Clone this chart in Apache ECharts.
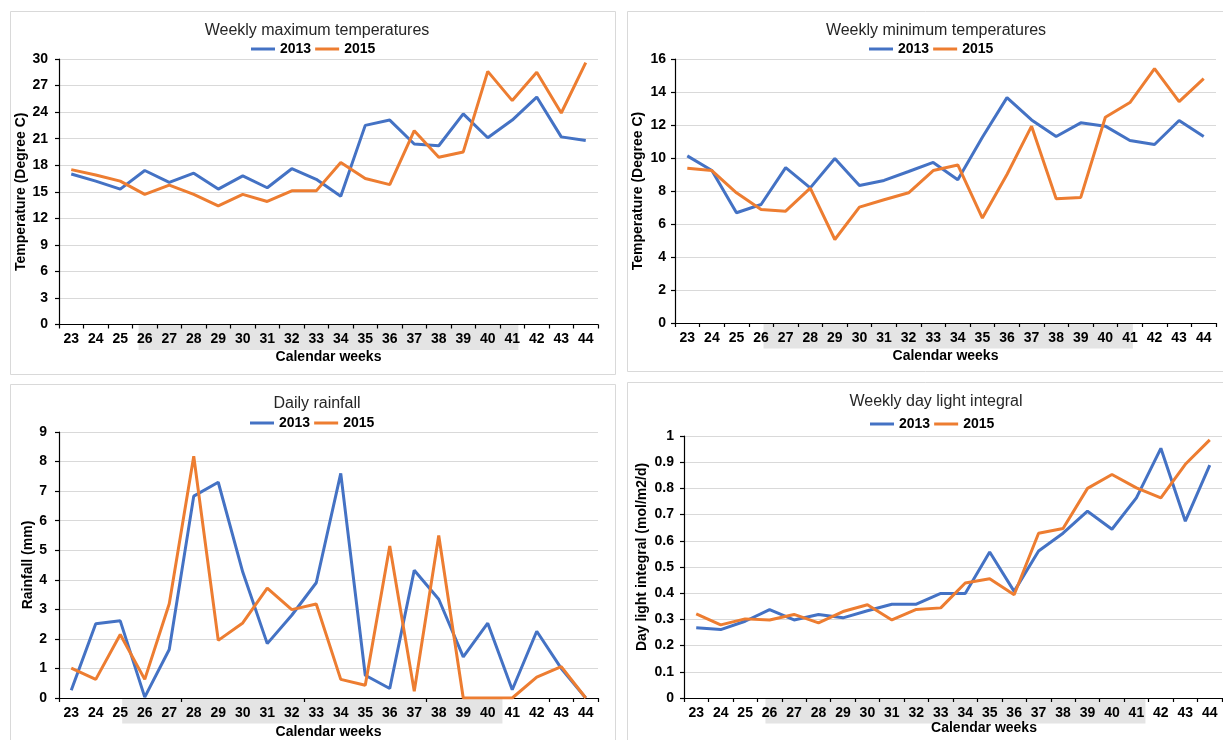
<!DOCTYPE html>
<html>
<head>
<meta charset="utf-8">
<script src="https://cdn.jsdelivr.net/npm/echarts@6/dist/echarts.min.js"></script>
<style>
html,body{margin:0;padding:0;background:#fff;}
#main{width:1223px;height:740px;}
</style>
</head>
<body>
<div id="main"></div>
<script>
// ---- Data ----
const weeks = ['23','24','25','26','27','28','29','30','31','32','33','34','35','36','37','38','39','40','41','42','43','44'];
const seriesNames = ['2013','2015'];

const maxTemp2013 = [17.0,16.2,15.3,17.4,16.05,17.1,15.3,16.8,15.45,17.6,16.4,14.5,22.5,23.1,20.4,20.2,23.8,21.1,23.1,25.7,21.2,20.8];
const maxTemp2015 = [17.5,16.9,16.2,14.7,15.75,14.7,13.4,14.7,13.9,15.1,15.1,18.3,16.5,15.8,21.9,18.9,19.5,28.6,25.3,28.5,23.9,29.6];

const minTemp2013 = [10.13,9.24,6.68,7.18,9.42,8.19,9.97,8.33,8.64,9.18,9.73,8.68,11.26,13.66,12.31,11.3,12.13,11.93,11.06,10.82,12.27,11.3];
const minTemp2015 = [9.38,9.24,7.89,6.88,6.78,8.17,5.06,7.02,7.47,7.89,9.24,9.58,6.36,9.0,11.93,7.53,7.61,12.47,13.36,15.42,13.42,14.81];

const rain2013 = [0.26,2.51,2.61,0.03,1.64,6.83,7.30,4.26,1.84,2.80,3.90,7.60,0.77,0.32,4.32,3.34,1.39,2.53,0.28,2.26,1.0,0.0];
const rain2015 = [1.01,0.63,2.15,0.63,3.19,8.18,1.95,2.54,3.72,2.99,3.18,0.63,0.43,5.14,0.23,5.50,0.0,0.0,0.0,0.71,1.06,0.0];

const dli2013 = [0.268,0.261,0.293,0.337,0.298,0.319,0.306,0.333,0.358,0.358,0.399,0.399,0.557,0.407,0.561,0.629,0.713,0.644,0.764,0.953,0.675,0.889];
const dli2015 = [0.321,0.279,0.302,0.298,0.319,0.287,0.330,0.356,0.298,0.338,0.344,0.439,0.455,0.394,0.629,0.647,0.800,0.853,0.802,0.764,0.892,0.985];

const titles = ['Weekly maximum temperatures','Weekly minimum temperatures','Daily rainfall','Weekly day light integral'];
const yNames = ['Temperature (Degree C)','Temperature (Degree C)','Rainfall (mm)','Day light integral (mol/m2/d)'];
const xName = 'Calendar weeks';
const yMin = [0,0,0,0];
const yMax = [30,16,9,1];
const yInterval = [3,2,1,0.1];
const chartData = [[maxTemp2013,maxTemp2015],[minTemp2013,minTemp2015],[rain2013,rain2015],[dli2013,dli2015]];

// highlighted label band (category + fractional offset)
const bandFrom = ['26','26','25','26'];
const bandFromOff = [-0.25,0.1,0.08,-0.17];
const bandTo = ['41','41','40','41'];
const bandToOff = [0.25,0.12,0.6,0.37];

// ---- Layout / style ----
const FONT = "'Liberation Sans', Arial, sans-serif";
const colors = ['#4472C4','#ED7D31'];
const grids = [
  {left:59, top:59, width:539, height:265.5},
  {left:675, top:59, width:541, height:264},
  {left:59, top:432, width:539, height:266},
  {left:684, top:436, width:538, height:262}
];
const titlePos = [{x:312,y:18},{x:931,y:18},{x:312,y:391},{x:931,y:389}];
const legendPos = [{x:246,y:37},{x:864,y:37},{x:245,y:411},{x:865,y:412}];
const yNameGap = [31,30,23,35];
const yNamePad = [[0,0,0,0],[0,0,0,0],[0,0,0,0],[0,0,0,20]];
const xNameGap = [26,26,27,22];
const xNamePad = [[0,0,0,0],[0,0,0,0],[0,0,0,0],[0,0,0,62]];
const yLabelMargin = [11,9,12,10];
const xTickInterval = [0,0,4,0];
const panels = [
  {x:10.5,y:11.5,w:605,h:363},
  {x:627.5,y:11.5,w:620,h:360},
  {x:10.5,y:384.5,w:605,h:400},
  {x:627.5,y:382.5,w:620,h:400}
];

const chart = echarts.init(document.getElementById('main'));

const option = {
  backgroundColor:'#fff',
  animation:false,
  title: titles.map((t,i)=>({
    text:t, left:titlePos[i].x, top:titlePos[i].y, textAlign:'center',
    textStyle:{fontFamily:FONT,fontSize:16,fontWeight:'normal',color:'#262626'}
  })),
  legend: grids.map((g,i)=>({
    data:seriesNames, left:legendPos[i].x, top:legendPos[i].y,
    icon:'rect', itemWidth:24, itemHeight:3, itemGap:4, selectedMode:false,
    textStyle:{fontFamily:FONT,fontSize:14,fontWeight:'bold',color:'#000'}
  })),
  grid: grids.map(g=>Object.assign({containLabel:false},g)),
  xAxis: grids.map((g,i)=>({
    type:'category', gridIndex:i, data:weeks, boundaryGap:true,
    name:xName, nameLocation:'middle', nameGap:xNameGap[i],
    nameTextStyle:{fontFamily:FONT,fontSize:14,fontWeight:'bold',color:'#000',padding:xNamePad[i]},
    axisLine:{lineStyle:{color:'#000',width:1.2}},
    axisTick:{show:true,length:4,interval:xTickInterval[i],lineStyle:{color:'#000',width:1.2}},
    axisLabel:{interval:0,margin:8,fontFamily:FONT,fontSize:14,fontWeight:'bold',color:'#000'},
    splitLine:{show:false}
  })),
  yAxis: grids.map((g,i)=>({
    type:'value', gridIndex:i, min:yMin[i], max:yMax[i], interval:yInterval[i],
    name:yNames[i], nameLocation:'middle', nameGap:yNameGap[i],
    nameTextStyle:{fontFamily:FONT,fontSize:14,fontWeight:'bold',color:'#000',padding:yNamePad[i]},
    axisLine:{show:true,lineStyle:{color:'#000',width:1.2}},
    axisTick:{show:true,length:4,lineStyle:{color:'#000',width:1.2}},
    axisLabel:{margin:yLabelMargin[i],fontFamily:FONT,fontSize:14,fontWeight:'bold',color:'#000'},
    splitLine:{show:true,lineStyle:{color:'#d9d9d9',width:1.2}}
  })),
  series: []
};
chartData.forEach((pair,i)=>{
  pair.forEach((vals,k)=>{
    option.series.push({
      type:'line', name:seriesNames[k], xAxisIndex:i, yAxisIndex:i,
      data:vals, symbol:'none', showSymbol:false, smooth:false,
      lineStyle:{width:3,color:colors[k]}, itemStyle:{color:colors[k]},
      z:3+k
    });
  });
});
chart.setOption(option);

// bands + panel borders, positioned through the library's axes
const graphics = [];
panels.forEach(p=>{
  graphics.push({type:'rect',z:-20,silent:true,shape:{x:p.x,y:p.y,width:p.w,height:p.h},
    style:{fill:null,stroke:'#d9d9d9',lineWidth:1}});
});
grids.forEach((g,i)=>{
  const x0 = chart.convertToPixel({xAxisIndex:i}, weeks[0]);
  const x1 = chart.convertToPixel({xAxisIndex:i}, weeks[1]);
  const cw = x1 - x0;
  const a = chart.convertToPixel({xAxisIndex:i}, bandFrom[i]) + bandFromOff[i]*cw;
  const b = chart.convertToPixel({xAxisIndex:i}, bandTo[i]) + bandToOff[i]*cw;
  const y0 = chart.convertToPixel({yAxisIndex:i}, 0);
  graphics.push({type:'rect',z:-10,silent:true,shape:{x:a,y:y0+0.5,width:b-a,height:25},
    style:{fill:'#e4e4e4'}});
});
chart.setOption({graphic:graphics});
</script>
</body>
</html>
